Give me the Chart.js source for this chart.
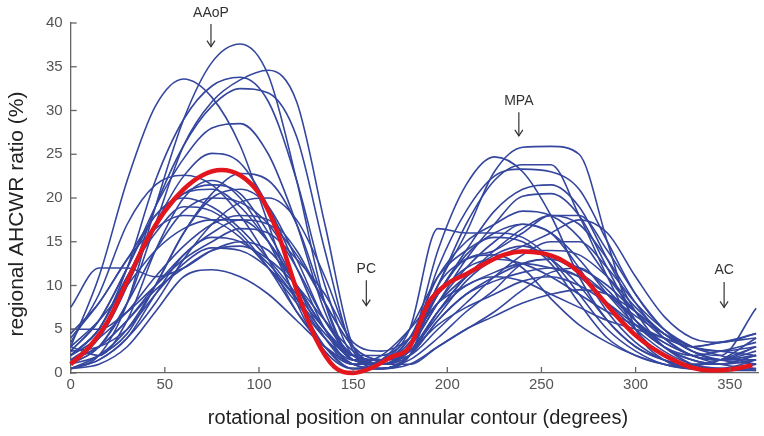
<!DOCTYPE html>
<html><head><meta charset="utf-8">
<script src="https://cdn.jsdelivr.net/npm/chart.js@4"></script>
<style>html,body{margin:0;padding:0;background:#fff}canvas{display:block}</style>
</head><body><canvas id="c" width="764" height="436"></canvas>
<script>
const degrees = [0,15,30,45,60,75,90,105,120,135,150,165,180,195,210,225,240,255,270,285,300,315,330,345,364];
const meanDegrees = [0,10,20,30,40,50,60,70,80,90,100,110,120,130,140,150,160,170,180,190,200,210,220,230,240,250,260,270,280,290,300,310,320,330,340,350,362];
const meanRatio = [1,3,6,10.5,15,18.5,21,22.6,23.2,22.6,20.5,16,9.5,4,0.7,0,0.6,1.8,3,8,10.2,11.3,12.5,13.5,13.9,13.7,13,11.5,9,6.5,4.3,2.7,1.5,0.6,0.3,0.4,0.9];
const s1 = [0.5,2,8,19,29,35.5,37.6,34,22,8,1.5,1,3,8,12,15,17,16,12,7,3.5,1.5,0.5,0.5,1.5];
const s2 = [3,11,22,30.5,33.6,31.5,26,17,8,2.5,0.5,1.5,5,11,14,15.5,15,12.5,8,4,2,1,0.8,1.5,3];
const s3 = [1,3,8,17,26,31,33.5,34.6,31,17,3,0.5,2,10,16,23,25.8,25.9,25,15,5,1.5,0.5,0.5,1];
const s4 = [2,5,12,22,29,32.8,33.8,31,22,10,2,1,3,9,14,18.5,21,21.5,19,13,7,3,1.5,1,1.5];
const s5 = [1.5,4,10,19,26,30.5,32.5,32,27,14,2.5,0.5,2,7,11,13.5,14.5,13,10,6,3,1.5,0.5,0.3,0.5];
const s6 = [2.5,6,12,19,24.5,28,28.5,25,17,7,1.5,1.5,4,10,17,22,23.8,23.8,18,11,5,2,1,1,2];
const s7 = [1,4,10,17,22.5,25.1,24,19,12,5,1,1,3,14,21.5,24.7,23,18,11,6,3,1.5,1,1.5,4];
const s8 = [3.5,9,17,21.5,22.6,21.5,18,13,7,3,1,2,5,9,12,13,12.5,11,9,7,5.5,4,3,3.5,4.5];
const s9 = [0.5,2,5,10,16,20.5,22.8,22,17,8,1.5,1,3,8,13,17,20.2,20.5,18,12,6,3,1.5,1,2];
const s10 = [2,5,11,17,20.5,21.5,20.5,16,10,4,1,1.5,5,16.5,16,16,15.5,13,9,5,2.5,1,0.5,0.5,1];
const s11 = [4,8,13,18,20.5,21,19,15,10,5,1.5,1,2.5,7,11,14,16.5,18,17,13,8,4,2,1.5,2.5];
const s12 = [1,3,8,14,18.5,20,19.5,17,12,6,2,1,2,6,9,11,12.5,13,12,10,7,4.5,2.5,2,7.4];
const s13 = [2,4,7,11,14.5,17,18,17.5,14,8,3,1.5,3,9,13.5,16,17,16,13,9,5.5,3,2,2.5,3.5];
const s14 = [3,6,10,14,16.5,17.5,17.5,15,10,5,2,2,4,8,10,11.5,12.5,12,11,9,6.5,4.5,3,2.5,2];
const s15 = [1.5,3,6,10,13.5,16,17.5,17,13.5,8,3,1.5,2,5,8,11,13.5,15,15,12,8,5,3,2,1];
const s16 = [0.5,1.5,4,9,13.5,15.5,15,12.5,8.5,4,1,0.5,1.5,4,7,9.5,12.5,13,11.5,9,6,3.5,2,1,0.5];
const s17 = [2.5,3,5,9,12.5,14.3,14,12,8.5,4.5,1.5,1,2.5,6.5,10.5,13,14,14,13.5,11,7.5,4.5,2.5,1.5,1];
const s18 = [0.5,1,3,7,11,11.8,11,9,6,3,1,0.5,1,3,5,7,9.5,11.5,12,9.5,6,3,1,0.3,0.3];
const s19 = [7.5,12,12,11,12,14,15,14,10,5,1.5,1,2.5,7,10,11,10.5,9,7.5,6,5,4,3,3.5,4];
const s20 = [4.5,8,13,16.5,18,17.5,15.5,12,8,4,1.5,1.5,3.5,9,13,13.5,12,8.5,5.5,3.5,2,1,0.5,0.5,1];
const s21 = [1,2,4.5,10,16,20,21,19,13,6,2,1.5,4,11,15,17,18.5,18,15.5,11,7,4,2,1.5,3];
const s22 = [3,2,6,14,20,22,20,15,8.5,3,0.5,0.5,2,6,9,10.5,11.5,12,11,8,5,2.5,1,0.5,0.3];
const s23 = [5,5,7,10,13,15,16.5,16,13,9,3.5,2.5,4,8,11,13,14.5,16,17.5,16,11,6.5,4,3.5,4.5];
const s24 = [0.5,1.5,4,8,13,17,19.5,20,17.5,11,3,1,2.5,5.5,7.5,9,10.5,11,10,8,5.5,3.5,2,1.5,2];
const s25 = [2,5,11,16,19,18.5,16,12,7,3,0.5,0.5,2,10,13,14,16,18,18,14,9,5,2.5,1.5,2];
const s26 = [1.5,3,6,9.5,12,14,14.5,13,10,6,2.5,1,1,3,5,6.5,8,9,9.5,9,7,4.5,2.5,1.5,1.5];
const s27 = [2.5,6,12,18,20,19,16.5,13,9,5,2,1.5,3,12,18.5,22.5,23.3,23,21,15,9,5,3,2.5,3];
const subjects = [s1,s2,s3,s4,s5,s6,s7,s8,s9,s10,s11,s12,s13,s14,s15,s16,s17,s18,s19,s20,s21,s22,s23,s24,s25,s26,s27];
const xTicks = [0,50,100,150,200,250,300,350];
const yTicks = [0,5,10,15,20,25,30,35,40];
const xTitle = 'rotational position on annular contour (degrees)';
const yTitle = 'regional AHCWR ratio (%)';
const markers = [
  {label:'AAoP', x:74.5, textY:41.1, y1:39.9, y2:37.3},
  {label:'PC', x:157, textY:11.9, y1:10.6, y2:7.7},
  {label:'MPA', x:238, textY:31.1, y1:29.8, y2:27.1},
  {label:'AC', x:347, textY:11.7, y1:10.4, y2:7.5}
];

const FONT = '"Liberation Sans", Arial, sans-serif';
const toPts = (xs, ys) => xs.map((x,i)=>({x:x, y:ys[i]}));

const datasets = [{
  data: toPts(meanDegrees, meanRatio), borderColor:'#e3161d', borderWidth:4.5,
  pointRadius:0, cubicInterpolationMode:'monotone', order:0, clip:6
}];
subjects.forEach(s => datasets.push({
  data: toPts(degrees, s), borderColor:'#34469e', borderWidth:1.6,
  pointRadius:0, cubicInterpolationMode:'monotone', order:1, clip:4
}));

const decorations = {
  id:'decorations',
  afterDraw(chart){
    const ctx = chart.ctx, xs = chart.scales.x, ys = chart.scales.y, a = chart.chartArea;
    ctx.save();
    ctx.strokeStyle = '#666'; ctx.lineWidth = 1.3;
    xTicks.forEach(t => { const px = xs.getPixelForValue(t); ctx.beginPath(); ctx.moveTo(px, a.bottom); ctx.lineTo(px, a.bottom-6); ctx.stroke(); });
    yTicks.forEach(t => { const py = ys.getPixelForValue(t); ctx.beginPath(); ctx.moveTo(a.left, py); ctx.lineTo(a.left+6, py); ctx.stroke(); });
    ctx.fillStyle = '#333'; ctx.strokeStyle = '#333'; ctx.lineWidth = 1.2;
    ctx.font = '14px ' + FONT; ctx.textAlign = 'center'; ctx.textBaseline = 'middle';
    markers.forEach(m => {
      const px = xs.getPixelForValue(m.x);
      ctx.fillText(m.label, px, ys.getPixelForValue(m.textY));
      const p1 = ys.getPixelForValue(m.y1), p2 = ys.getPixelForValue(m.y2);
      ctx.beginPath(); ctx.moveTo(px, p1); ctx.lineTo(px, p2); ctx.stroke();
      ctx.beginPath(); ctx.moveTo(px-4, p2-6); ctx.lineTo(px, p2); ctx.lineTo(px+4, p2-6); ctx.stroke();
    });
    // axis titles
    ctx.fillStyle = '#222';
    ctx.font = '20px ' + FONT;
    ctx.fillText(xTitle, 418, 418);
    ctx.translate(17, 214); ctx.rotate(-Math.PI/2);
    ctx.font = '21px ' + FONT;
    ctx.fillText(yTitle, 0, 0);
    ctx.restore();
  }
};

new Chart(document.getElementById('c'), {
  type:'line',
  data:{datasets},
  options:{
    responsive:false, animation:false,
    layout:{padding:{top:23, right:6, left:38, bottom:39}},
    plugins:{legend:{display:false}, tooltip:{enabled:false}},
    scales:{
      x:{type:'linear', min:0, max:365,
        afterBuildTicks:(s)=>{s.ticks = xTicks.map(v=>({value:v}));},
        grid:{display:false, drawTicks:false},
        border:{display:true, color:'#666', width:1.3},
        ticks:{color:'#555', font:{family:FONT, size:15}, padding:3}
      },
      y:{type:'linear', min:0, max:40,
        afterBuildTicks:(s)=>{s.ticks = yTicks.map(v=>({value:v}));},
        grid:{display:false, drawTicks:false},
        border:{display:true, color:'#666', width:1.3},
        ticks:{color:'#555', font:{family:FONT, size:15}, padding:8}
      }
    }
  },
  plugins:[decorations]
});
</script></body></html>
